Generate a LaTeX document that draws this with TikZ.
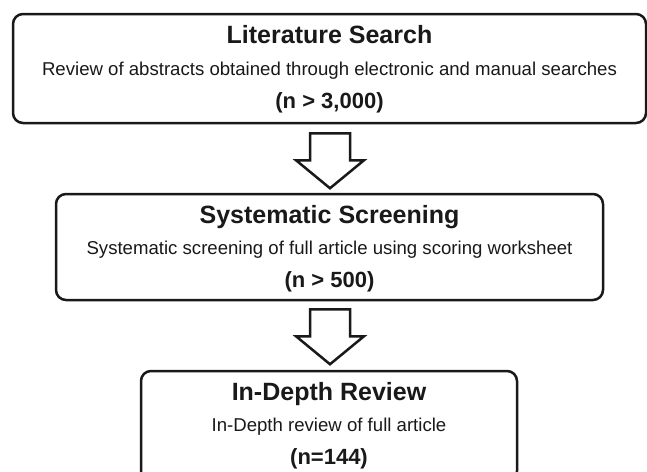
\documentclass[tikz,border=0pt]{standalone}
\usepackage{fontspec}
\setmainfont{Liberation Sans}
\usetikzlibrary{calc}
\begin{document}
\begin{tikzpicture}[x=1pt,y=-1pt,
  box/.style={draw=black!90, line width=2.5pt, rounded corners=10pt, inner sep=0pt},
  ttl/.style={anchor=base, inner sep=0pt, text=black!90, font=\fontsize{25}{30}\selectfont\bfseries},
  bdy/.style={anchor=base, inner sep=0pt, text=black!90, font=\fontsize{18.6}{22}\selectfont},
  cnt/.style={anchor=base, inner sep=0pt, text=black!90, font=\fontsize{22}{26}\selectfont\bfseries},
  blockarrow/.style={draw=black!90, line width=2.5pt, fill=white, line join=miter},
  downarrow/.pic={\draw[blockarrow] (-20,0) -- (20,0) -- (20,27) -- (34,27) -- (0,55) -- (-34,27) -- (-20,27) -- cycle;}]
\useasboundingbox (0,0) rectangle (647,471);
\clip (0,0) rectangle (647,471);
\fill[white] (0,0) rectangle (647,471);

\node[box, minimum width=633pt, minimum height=109pt] (b1) at (329.5,68.5) {};
\node[box, minimum width=547pt, minimum height=106pt] (b2) at (329.5,247) {};
\node[box, minimum width=376pt, minimum height=110pt] (b3) at (329,426) {};

\node[ttl] (t1) at ($(b1.north)+(0,31)$) {Literature Search};
\node[bdy] (d1) at ($(b1.north)+(0,63)$) {Review of abstracts obtained through electronic and manual searches};
\node[cnt] (n1) at ($(b1.north)+(0,96)$) {(n > 3,000)};

\node[ttl] (t2) at ($(b2.north)+(0,31)$) {Systematic Screening};
\node[bdy] (d2) at ($(b2.north)+(0,62)$) {Systematic screening of full article using scoring worksheet};
\node[cnt] (n2) at ($(b2.north)+(0,95)$) {(n > 500)};

\node[ttl] (t3) at ($(b3.north)+(0,31)$) {In-Depth Review};
\node[bdy] (d3) at ($(b3.north)+(0,62)$) {In-Depth review of full article};
\node[cnt] (n3) at ($(b3.north)+(0,95)$) {(n=144)};

\pic at ($(b1.south)+(0.5,9)$) {downarrow};
\pic at ($(b2.south)+(0.5,8)$) {downarrow};
\end{tikzpicture}
\end{document}
